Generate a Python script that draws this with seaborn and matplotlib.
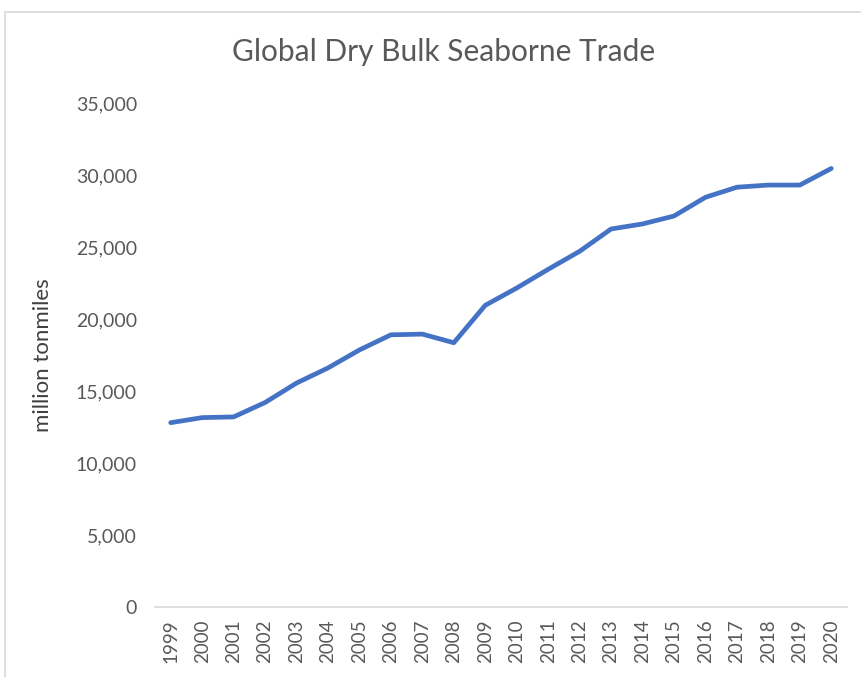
import numpy as np
import pandas as pd
import matplotlib
matplotlib.use("Agg")
import matplotlib.pyplot as plt
import seaborn as sns
from matplotlib.patches import Rectangle
from matplotlib.ticker import FuncFormatter

# 데이터
years = [str(y) for y in range(1999, 2021)]
tonmiles = [12800, 13150, 13200, 14200, 15550, 16600, 17850, 18900, 18950, 18350,
            20950, 22150, 23450, 24700, 26250, 26600, 27150, 28450, 29150, 29300,
            29300, 30450]

df = pd.DataFrame({"year": years, "tonmiles": tonmiles})

sns.set_theme(style="white")
plt.rcParams['font.family'] = ['Lato', 'DejaVu Sans']

grey = "#595959"
fig = plt.figure(figsize=(8.62, 6.77), dpi=100)
ax = fig.add_axes([0.1798, 0.1034, 0.8028, 0.7445])

sns.lineplot(data=df, x="year", y="tonmiles", ax=ax, color="#4472C4",
             linewidth=3.4, sort=False)

ax.set_xlim(-0.5, len(years) - 0.5)
ax.set_ylim(0, 35000)
ax.set_yticks(np.arange(0, 35001, 5000))
ax.yaxis.set_major_formatter(FuncFormatter(lambda v, p: f"{int(v):,}"))
ax.tick_params(axis="y", labelsize=14, labelcolor=grey, length=0, pad=13)
ax.tick_params(axis="x", labelsize=13.5, labelcolor=grey, length=0, pad=9,
               labelrotation=90)

for s in ["top", "right", "left"]:
    ax.spines[s].set_visible(False)
ax.spines["bottom"].set_color("#d9d9d9")
ax.spines["bottom"].set_linewidth(1.2)

ax.set_xlabel("")
ax.set_ylabel("million tonmiles", fontsize=16, color="#404040")
ax.yaxis.set_label_coords(-0.148, 0.5)

fig.text(0.514, 0.923, "Global Dry Bulk Seaborne Trade", ha="center", va="center",
         fontsize=21.5, color=grey)

# 바깥 테두리
fig.patches.append(Rectangle((5 / 862, -0.01), 1.0, 1 - 12 / 677 + 0.01,
                             transform=fig.transFigure, fill=False,
                             edgecolor="#d9d9d9", linewidth=1.2))

plt.savefig("out.png", dpi=100)
